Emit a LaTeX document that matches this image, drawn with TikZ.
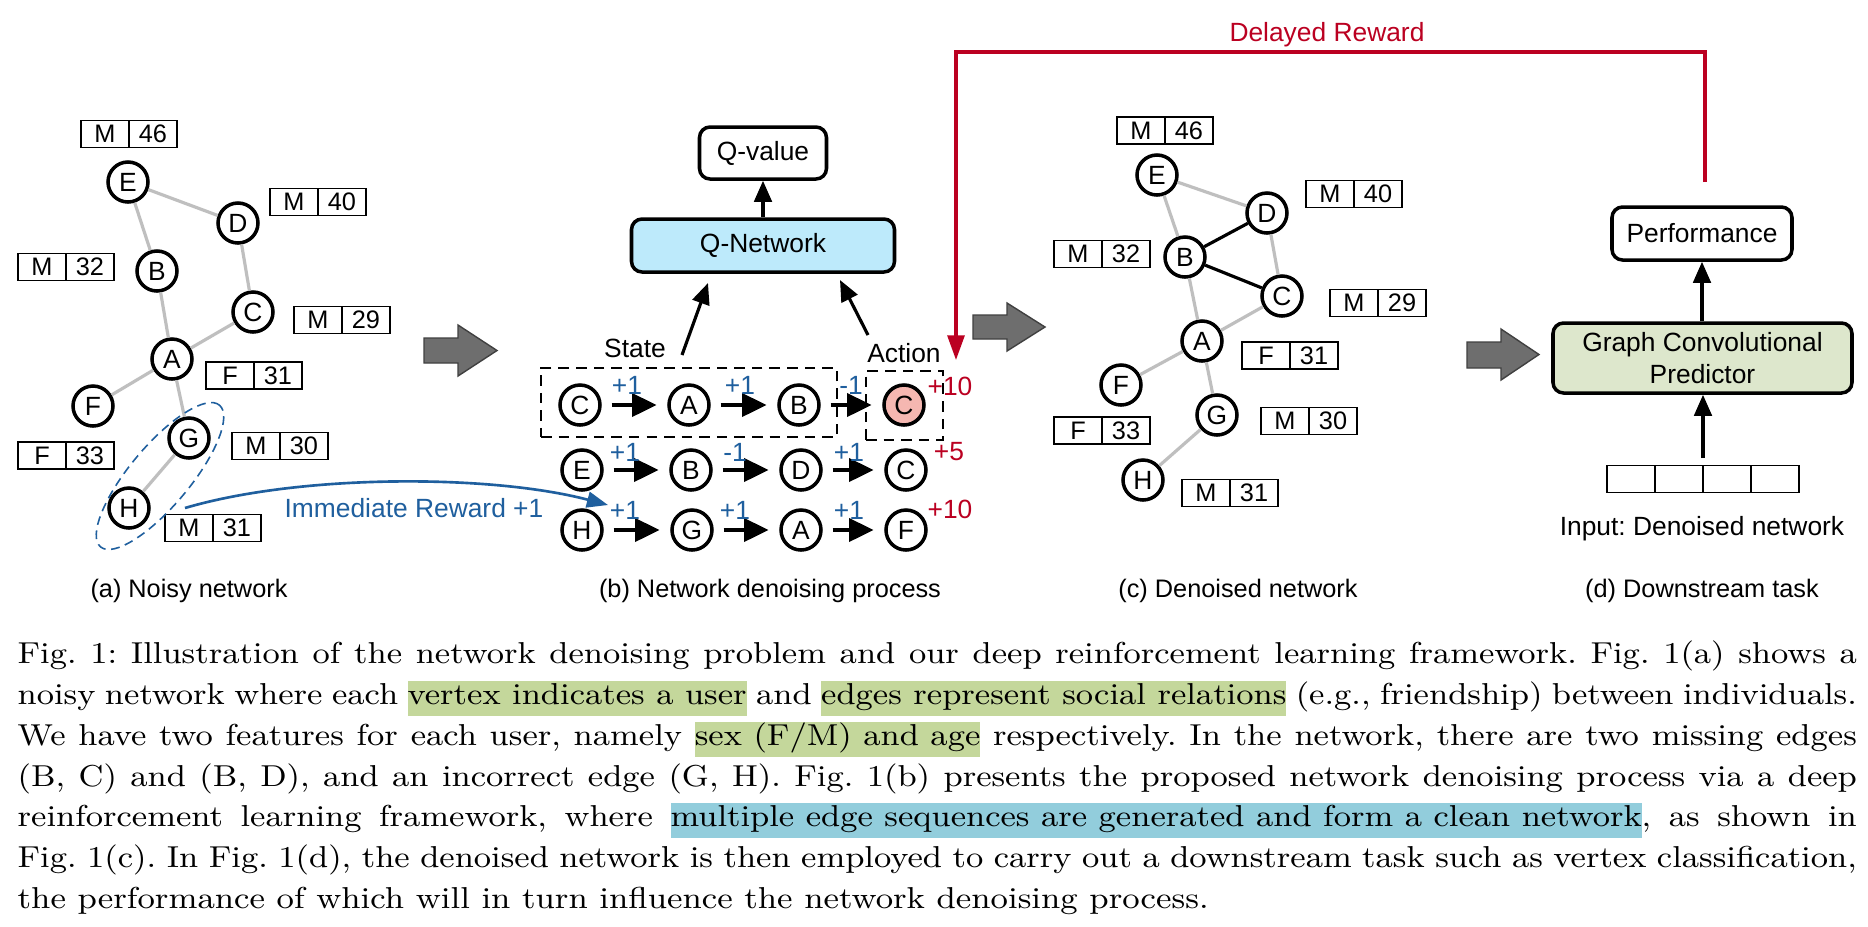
\documentclass[tikz,border=0pt]{standalone}
\usepackage{fontspec}
\usepackage{graphicx}
\usetikzlibrary{arrows.meta,shapes.geometric}
\newfontfamily\dsans{Liberation Sans}
\newdimen\pxu \pxu=0.01cm
\definecolor{edgegray}{HTML}{BFBFBF}
\definecolor{arrgray}{HTML}{6E6E6E}
\definecolor{qblue}{HTML}{BDEAFB}
\definecolor{gcgreen}{HTML}{DDE7CC}
\definecolor{actpink}{HTML}{F5B7B1}
\definecolor{rewred}{HTML}{BB0021}
\definecolor{rewblue}{HTML}{1F5F9E}
\definecolor{hlgreen}{HTML}{C4D79B}
\definecolor{hlblue}{HTML}{92CDDC}
\newcommand\hlg[1]{{\fboxsep=0pt\colorbox{hlgreen}{\rule[-3.4pt]{0pt}{9.9pt}#1}}}
\newcommand\hlb[1]{{\fboxsep=0pt\colorbox{hlblue}{\rule[-3.4pt]{0pt}{9.9pt}#1}}}
\newcommand\capline[1]{\scalebox{1.1104}[1]{\makebox[471pt][s]{#1}}}
\newcommand\capend[1]{\resizebox{1191\pxu}{\height}{#1}}
\newcommand\feat[5]{%
  \node[fcell] (#1s) at (#2,#3) {#4};
  \node[fcell] (#1g) at (#1s.east) {#5};}
\tikzset{
  dfont/.style={font=\dsans\fontsize{7.5}{9}\selectfont\frenchspacing},
  vtx/.style={circle, draw, line width=1pt, minimum size=40\pxu, inner sep=0pt, fill=white, dfont},
  fcell/.style={draw, line width=0.55pt, minimum width=48\pxu, minimum height=27\pxu, inner sep=0pt, outer sep=0pt, anchor=west, font=\dsans\fontsize{7.2}{8}\selectfont},
  gedge/.style={draw=edgegray, line width=0.9pt},
  bedge/.style={draw=black, line width=0.9pt},
  rbox/.style={draw, rounded corners=3pt, line width=1pt, inner sep=0pt, dfont},
  arr/.style={-{Triangle[length=6pt,width=5pt]}, line width=0.9pt},
  sarr/.style={-{Triangle[length=7pt,width=6.5pt]}, line width=1.2pt, shorten <=2.8pt, shorten >=3pt},
  blockarrow/.style={fill=arrgray, draw=black!75, line width=0.4pt},
  dbox/.style={draw, dash pattern=on 3pt off 2pt, line width=0.5pt, inner sep=0pt},
  rw/.style={text=rewblue, dfont, inner sep=0pt},
  rr/.style={text=rewred, dfont, inner sep=0pt},
  lbl/.style={dfont, inner sep=0pt},
  sublbl/.style={font=\dsans\fontsize{7.2}{9}\selectfont, inner sep=0pt, anchor=base},
  capt/.style={font=\fontsize{8.6}{10}\selectfont\frenchspacing, inner sep=0pt, anchor=base west},
}
\begin{document}
\begin{tikzpicture}[x=0.01cm,y=-0.01cm]
\useasboundingbox (0,0) rectangle (1868,926);
\fill[white] (0,0) rectangle (1868,926);

% ---------------- (a) noisy network
\node[vtx] (aE) at (128,182) {E};
\node[vtx] (aD) at (238,223) {D};
\node[vtx] (aB) at (157,271) {B};
\node[vtx] (aC) at (253,312) {C};
\node[vtx] (aA) at (172,359) {A};
\node[vtx] (aF) at (93,406) {F};
\node[vtx] (aG) at (189,438) {G};
\node[vtx] (aH) at (129,508) {H};
\draw[gedge] (aE) -- (aD);
\draw[gedge] (aE) -- (aB);
\draw[gedge] (aD) -- (aC);
\draw[gedge] (aB) -- (aA);
\draw[gedge] (aC) -- (aA);
\draw[gedge] (aA) -- (aF);
\draw[gedge] (aA) -- (aG);
\draw[gedge] (aG) -- (aH);
\feat{faE}{81}{134}{M}{46}
\feat{faD}{270}{202}{M}{40}
\feat{faB}{18}{267}{M}{32}
\feat{faC}{294}{320}{M}{29}
\feat{faA}{206}{375.5}{F}{31}
\feat{faG}{232}{446}{M}{30}
\feat{faF}{18}{455.5}{F}{33}
\feat{faH}{165}{528}{M}{31}
\node[ellipse, draw=rewblue, dash pattern=on 2.5pt off 1.6pt, line width=0.45pt,
      minimum width=185\pxu, minimum height=60\pxu, inner sep=0pt, rotate=50] (gh) at (160,476) {};

% immediate reward
\coordinate (irs) at (185,508);
\coordinate (ire) at (608,505);
\draw[rewblue, line width=0.75pt, -{Triangle[length=6pt,width=4.5pt]}] (irs) .. controls (300,474) and (490,474) .. (ire);
\node[rw, anchor=base] (irl) at (414,517) {Immediate Reward +1};

% block arrows
\draw[blockarrow] (424,338) -- (458,338) -- (458,325) -- (497,350.5) -- (458,376) -- (458,363) -- (424,363) -- cycle;
\draw[blockarrow] (973,315) -- (1007,315) -- (1007,303) -- (1045,327) -- (1007,351) -- (1007,339) -- (973,339) -- cycle;
\draw[blockarrow] (1467,342) -- (1501,342) -- (1501,329) -- (1539,354.5) -- (1501,380) -- (1501,368) -- (1467,368) -- cycle;

% ---------------- (b) denoising process
\node[rbox, minimum width=127\pxu, minimum height=52\pxu] (qv) at (763,153) {Q-value};
\node[rbox, fill=qblue, minimum width=263\pxu, minimum height=53\pxu] (qn) at (763,245.5) {Q-Network};
\draw[arr] (qn.north) -- (qv.south);

\node[lbl, anchor=base] (stl) at (635,357) {State};
\node[lbl, anchor=base] (acl) at (904,362) {Action};
\coordinate (sas) at (682,355);
\coordinate (sae) at (708,283);
\coordinate (aas) at (868,335);
\coordinate (aae) at (840,280);
\draw[arr] (sas) -- (sae);
\draw[arr] (aas) -- (aae);

\node[dbox, minimum width=296\pxu, minimum height=69\pxu] (stbox) at (689,402.5) {};
\node[dbox, minimum width=77\pxu, minimum height=69\pxu] (acbox) at (904.5,405.5) {};

\node[vtx] (r1a) at (580,405) {C};
\node[vtx] (r1b) at (689,405) {A};
\node[vtx] (r1c) at (799,405) {B};
\node[vtx, fill=actpink] (r1d) at (904,405) {C};
\node[vtx] (r2a) at (582,470) {E};
\node[vtx] (r2b) at (691,470) {B};
\node[vtx] (r2c) at (801,470) {D};
\node[vtx] (r2d) at (906,470) {C};
\node[vtx] (r3a) at (582,530) {H};
\node[vtx] (r3b) at (692,530) {G};
\node[vtx] (r3c) at (801,530) {A};
\node[vtx] (r3d) at (906,530) {F};
\draw[sarr] (r1a) -- (r1b);
\draw[sarr] (r1b) -- (r1c);
\draw[sarr] (r1c) -- (r1d);
\draw[sarr] (r2a) -- (r2b);
\draw[sarr] (r2b) -- (r2c);
\draw[sarr] (r2c) -- (r2d);
\draw[sarr] (r3a) -- (r3b);
\draw[sarr] (r3b) -- (r3c);
\draw[sarr] (r3c) -- (r3d);
\node[rw] (w11) at (627,385) {+1};
\node[rw] (w12) at (740,385) {+1};
\node[rw] (w13) at (851,385) {-1};
\node[rw] (w21) at (625,452) {+1};
\node[rw] (w22) at (735,452) {-1};
\node[rw] (w23) at (849,452) {+1};
\node[rw] (w31) at (625,510) {+1};
\node[rw] (w32) at (735,510) {+1};
\node[rw] (w33) at (849,510) {+1};
\node[rr] (t1) at (950,386) {+10};
\node[rr] (t2) at (949,452) {+5};
\node[rr] (t3) at (950,509) {+10};

% ---------------- (c) denoised network
\node[vtx] (cE) at (1157,175) {E};
\node[vtx] (cD) at (1267,213) {D};
\node[vtx] (cB) at (1185,257) {B};
\node[vtx] (cC) at (1282,296) {C};
\node[vtx] (cA) at (1202,341) {A};
\node[vtx] (cF) at (1121,385) {F};
\node[vtx] (cG) at (1217,415) {G};
\node[vtx] (cH) at (1143,480) {H};
\draw[gedge] (cE) -- (cD);
\draw[gedge] (cE) -- (cB);
\draw[gedge] (cD) -- (cC);
\draw[gedge] (cB) -- (cA);
\draw[gedge] (cC) -- (cA);
\draw[gedge] (cA) -- (cF);
\draw[gedge] (cA) -- (cG);
\draw[gedge] (cG) -- (cH);
\draw[bedge] (cB) -- (cD);
\draw[bedge] (cB) -- (cC);
\feat{fcE}{1117}{130.5}{M}{46}
\feat{fcD}{1306}{194}{M}{40}
\feat{fcB}{1054}{254}{M}{32}
\feat{fcC}{1330}{303}{M}{29}
\feat{fcA}{1242}{355.5}{F}{31}
\feat{fcG}{1261}{421}{M}{30}
\feat{fcF}{1054}{430.5}{F}{33}
\feat{fcH}{1182}{493}{M}{31}

% ---------------- (d) downstream task
\node[rbox, minimum width=180\pxu, minimum height=53\pxu] (perf) at (1702,233.5) {Performance};
\node[rbox, fill=gcgreen, minimum width=299\pxu, minimum height=70\pxu, align=center] (gcp) at (1702.5,358) {Graph Convolutional\\Predictor};
\node[fcell] (in1) at (1607,479) {};
\node[fcell] (in2) at (in1.east) {};
\node[fcell] (in3) at (in2.east) {};
\node[fcell] (in4) at (in3.east) {};
\coordinate (ins) at (1703,458);
\draw[arr] (ins) -- (gcp.south -| ins);
\draw[arr] (gcp.north -| perf.south) -- (perf.south);
\node[lbl, anchor=base] (inl) at (1702,535) {Input: Denoised network};

% delayed reward
\coordinate (drs) at (1705,182);
\coordinate (dre) at (956,360);
\draw[rewred, line width=0.9pt, -{Triangle[length=7pt,width=4.8pt]}] (drs) -- (1705,52) -- (956,52) -- (dre);
\node[rr, anchor=base] (drl) at (1327,41) {Delayed Reward};

% subcaptions
\node[sublbl] (sa) at (189,597) {(a) Noisy network};
\node[sublbl] (sb) at (770,597) {(b) Network denoising process};
\node[sublbl] (sc) at (1238,597) {(c) Denoised network};
\node[sublbl] (sd) at (1702,597) {(d) Downstream task};

% caption
\node[capt] (cl1) at (17,663) {\capline{Fig. 1: Illustration of the network denoising problem and our deep reinforcement learning framework. Fig. 1(a) shows a}};
\node[capt] (cl2) at (17,704) {\capline{noisy network where each \hlg{vertex indicates a user} and \hlg{edges represent social relations} (e.g., friendship) between individuals.}};
\node[capt] (cl3) at (17,745) {\capline{We have two features for each user, namely \hlg{sex (F/M) and age} respectively. In the network, there are two missing edges}};
\node[capt] (cl4) at (17,786) {\capline{(B, C) and (B, D), and an incorrect edge (G, H). Fig. 1(b) presents the proposed network denoising process via a deep}};
\node[capt] (cl5) at (17,826) {\capline{reinforcement learning framework, where \hlb{multiple edge sequences are generated and form a clean network}, as shown in}};
\node[capt] (cl6) at (17,867) {\capline{Fig. 1(c). In Fig. 1(d), the denoised network is then employed to carry out a downstream task such as vertex classification,}};
\node[capt] (cl7) at (17,908) {\capend{the performance of which will in turn influence the network denoising process.}};
\end{tikzpicture}
\end{document}
